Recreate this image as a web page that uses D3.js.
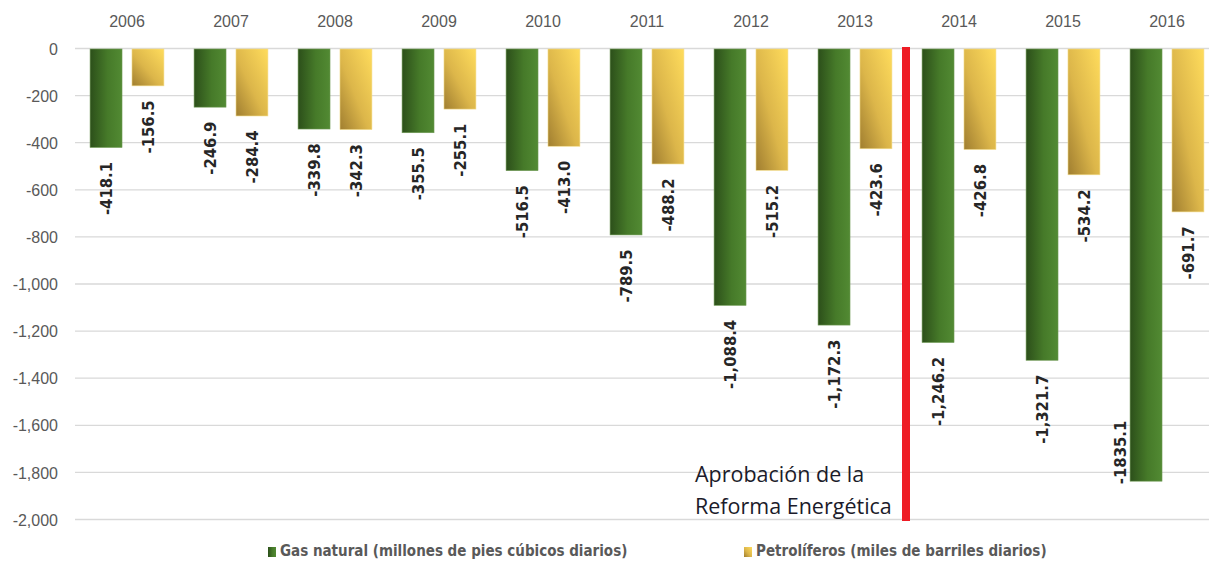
<!DOCTYPE html>
<html>
<head>
<meta charset="utf-8">
<title>Gas natural y petrolíferos</title>
<script src="https://cdn.jsdelivr.net/npm/d3@7"></script>
<style>
  body { margin: 0; background: #fff; }
  svg { display: block; }
  .tick text { fill: #595959; }
  .val { font-family: "Liberation Sans Narrow", "DejaVu Sans Condensed", "Arial Narrow", sans-serif; font-weight: bold; font-size: 16.5px; fill: #262626; }
  .legend text { font-family: "Liberation Sans Narrow", "DejaVu Sans Condensed", sans-serif; font-size: 15px; fill: #595959; font-weight: bold; }
</style>
</head>
<body>
<svg id="chart" width="1209" height="561"></svg>
<script>
// data
var years = ["2006","2007","2008","2009","2010","2011","2012","2013","2014","2015","2016"];
var gas = [-418.1, -246.9, -339.8, -355.5, -516.5, -789.5, -1088.4, -1172.3, -1246.2, -1321.7, -1835.1];
var petro = [-156.5, -284.4, -342.3, -255.1, -413.0, -488.2, -515.2, -423.6, -426.8, -534.2, -691.7];
var yTicks = [0, -200, -400, -600, -800, -1000, -1200, -1400, -1600, -1800, -2000];
var seriesNames = ["Gas natural (millones de pies cúbicos diarios)", "Petrolíferos (miles de barriles diarios)"];
var reformYear = "2014";

var svg = d3.select("#chart");
var pLeft = 75, pRight = 1219, pTop = 49, pBottom = 520;

var x0 = d3.scaleBand().domain(years).range([pLeft, pRight]).paddingInner(0.29).paddingOuter(0.145);
var x1 = d3.scaleBand().domain(["gas", "petro"]).range([0, x0.bandwidth()]).paddingInner(0.238);
var y = d3.scaleLinear().domain([0, -2000]).range([pTop, pBottom]);

// gradients
var defs = svg.append("defs");
var gG = defs.append("linearGradient").attr("id", "gGas").attr("x1", "0").attr("x2", "1").attr("y1", "0").attr("y2", "0");
gG.append("stop").attr("offset", "0").attr("stop-color", "#2c4f1a");
gG.append("stop").attr("offset", "0.55").attr("stop-color", "#467a29");
gG.append("stop").attr("offset", "1").attr("stop-color", "#528a33");
var gP = defs.append("linearGradient").attr("id", "gPet").attr("x1", "0").attr("x2", "1").attr("y1", "1").attr("y2", "0");
gP.append("stop").attr("offset", "0").attr("stop-color", "#a07e30");
gP.append("stop").attr("offset", "0.45").attr("stop-color", "#dcb64a");
gP.append("stop").attr("offset", "1").attr("stop-color", "#ffdc5c");

// gridlines
svg.append("g").selectAll("line").data(yTicks).join("line")
  .attr("x1", pLeft).attr("x2", 1209)
  .attr("y1", function(d) { return y(d) - 0.5; }).attr("y2", function(d) { return y(d) - 0.5; })
  .attr("stroke", "#d9d9d9").attr("stroke-width", 1.3);

// y axis labels
var yAxis = svg.append("g").attr("transform", "translate(" + pLeft + ",0)")
  .call(d3.axisLeft(y).tickValues(yTicks).tickSize(0).tickPadding(17).tickFormat(function(d) { return d3.format(",")(d).replace("−", "-"); }));
yAxis.select(".domain").remove();
yAxis.selectAll("text").attr("font-family", "Liberation Sans, Arial, sans-serif").attr("font-size", 16);

// year labels on top
var xAxis = svg.append("g").attr("transform", "translate(0," + pTop + ")")
  .call(d3.axisTop(x0).tickSize(0).tickPadding(22));
xAxis.select(".domain").remove();
xAxis.selectAll("text").attr("font-family", "Liberation Sans, Arial, sans-serif").attr("font-size", 16);

// bars
var rows = years.map(function(yr, i) { return { year: yr, gas: gas[i], petro: petro[i] }; });
var groups = svg.append("g").selectAll("g").data(rows).join("g")
  .attr("transform", function(d) { return "translate(" + x0(d.year) + ",0)"; });

var fmt = function(v) { return d3.format(",.1f")(v).replace("−", "-"); };

["gas", "petro"].forEach(function(k) {
  groups.append("rect")
    .attr("x", x1(k))
    .attr("y", y(0))
    .attr("width", x1.bandwidth())
    .attr("height", function(d) { return y(d[k]) - y(0); })
    .attr("fill", k == "gas" ? "url(#gGas)" : "url(#gPet)")
    .attr("stroke", k == "gas" ? "#6f9a55" : "#f3dc8a").attr("stroke-width", 0.6);

  groups.append("text").attr("class", "val")
    .attr("transform", function(d) {
      var yy = y(d[k]) + 14.5, cx = x1(k) + x1.bandwidth() / 2;
      // no room under the longest bar: the label sits beside it
      if (yy + 60 > pBottom) { yy = y(d[k]) + 3; cx = x1(k) - 10; }
      return "translate(" + cx + "," + yy + ") rotate(-90)";
    })
    .attr("text-anchor", function(d) { return y(d[k]) + 74.5 > pBottom ? "start" : "end"; })
    .attr("dy", "0.35em")
    .text(function(d) { return d[k] < -1800 ? d3.format(".1f")(d[k]).replace("−", "-") : fmt(d[k]); });
});

// reform line
var rx = x0(reformYear) - (x0.step() - x0.bandwidth()) / 2 - 1;
svg.append("rect").attr("x", rx - 4).attr("y", pTop - 2).attr("width", 8).attr("height", pBottom - pTop + 3).attr("fill", "#ee1c25");
var note = svg.append("text").attr("font-family", "Open Sans, Noto Sans, sans-serif").attr("font-size", 21.5).attr("fill", "#1b1b2a");
note.append("tspan").attr("x", 695).attr("y", 482).text("Aprobación de la");
note.append("tspan").attr("x", 695).attr("y", 514).text("Reforma Energética");

// legend
var legend = svg.append("g").attr("class", "legend");
var lx = [268, 744], lfill = ["url(#gGas)", "url(#gPet)"];
seriesNames.forEach(function(n, i) {
  legend.append("rect").attr("x", lx[i]).attr("y", 547).attr("width", 8).attr("height", 10).attr("fill", lfill[i]);
  legend.append("text").attr("x", lx[i] + 12).attr("y", 556).text(n);
});
</script>
</body>
</html>
